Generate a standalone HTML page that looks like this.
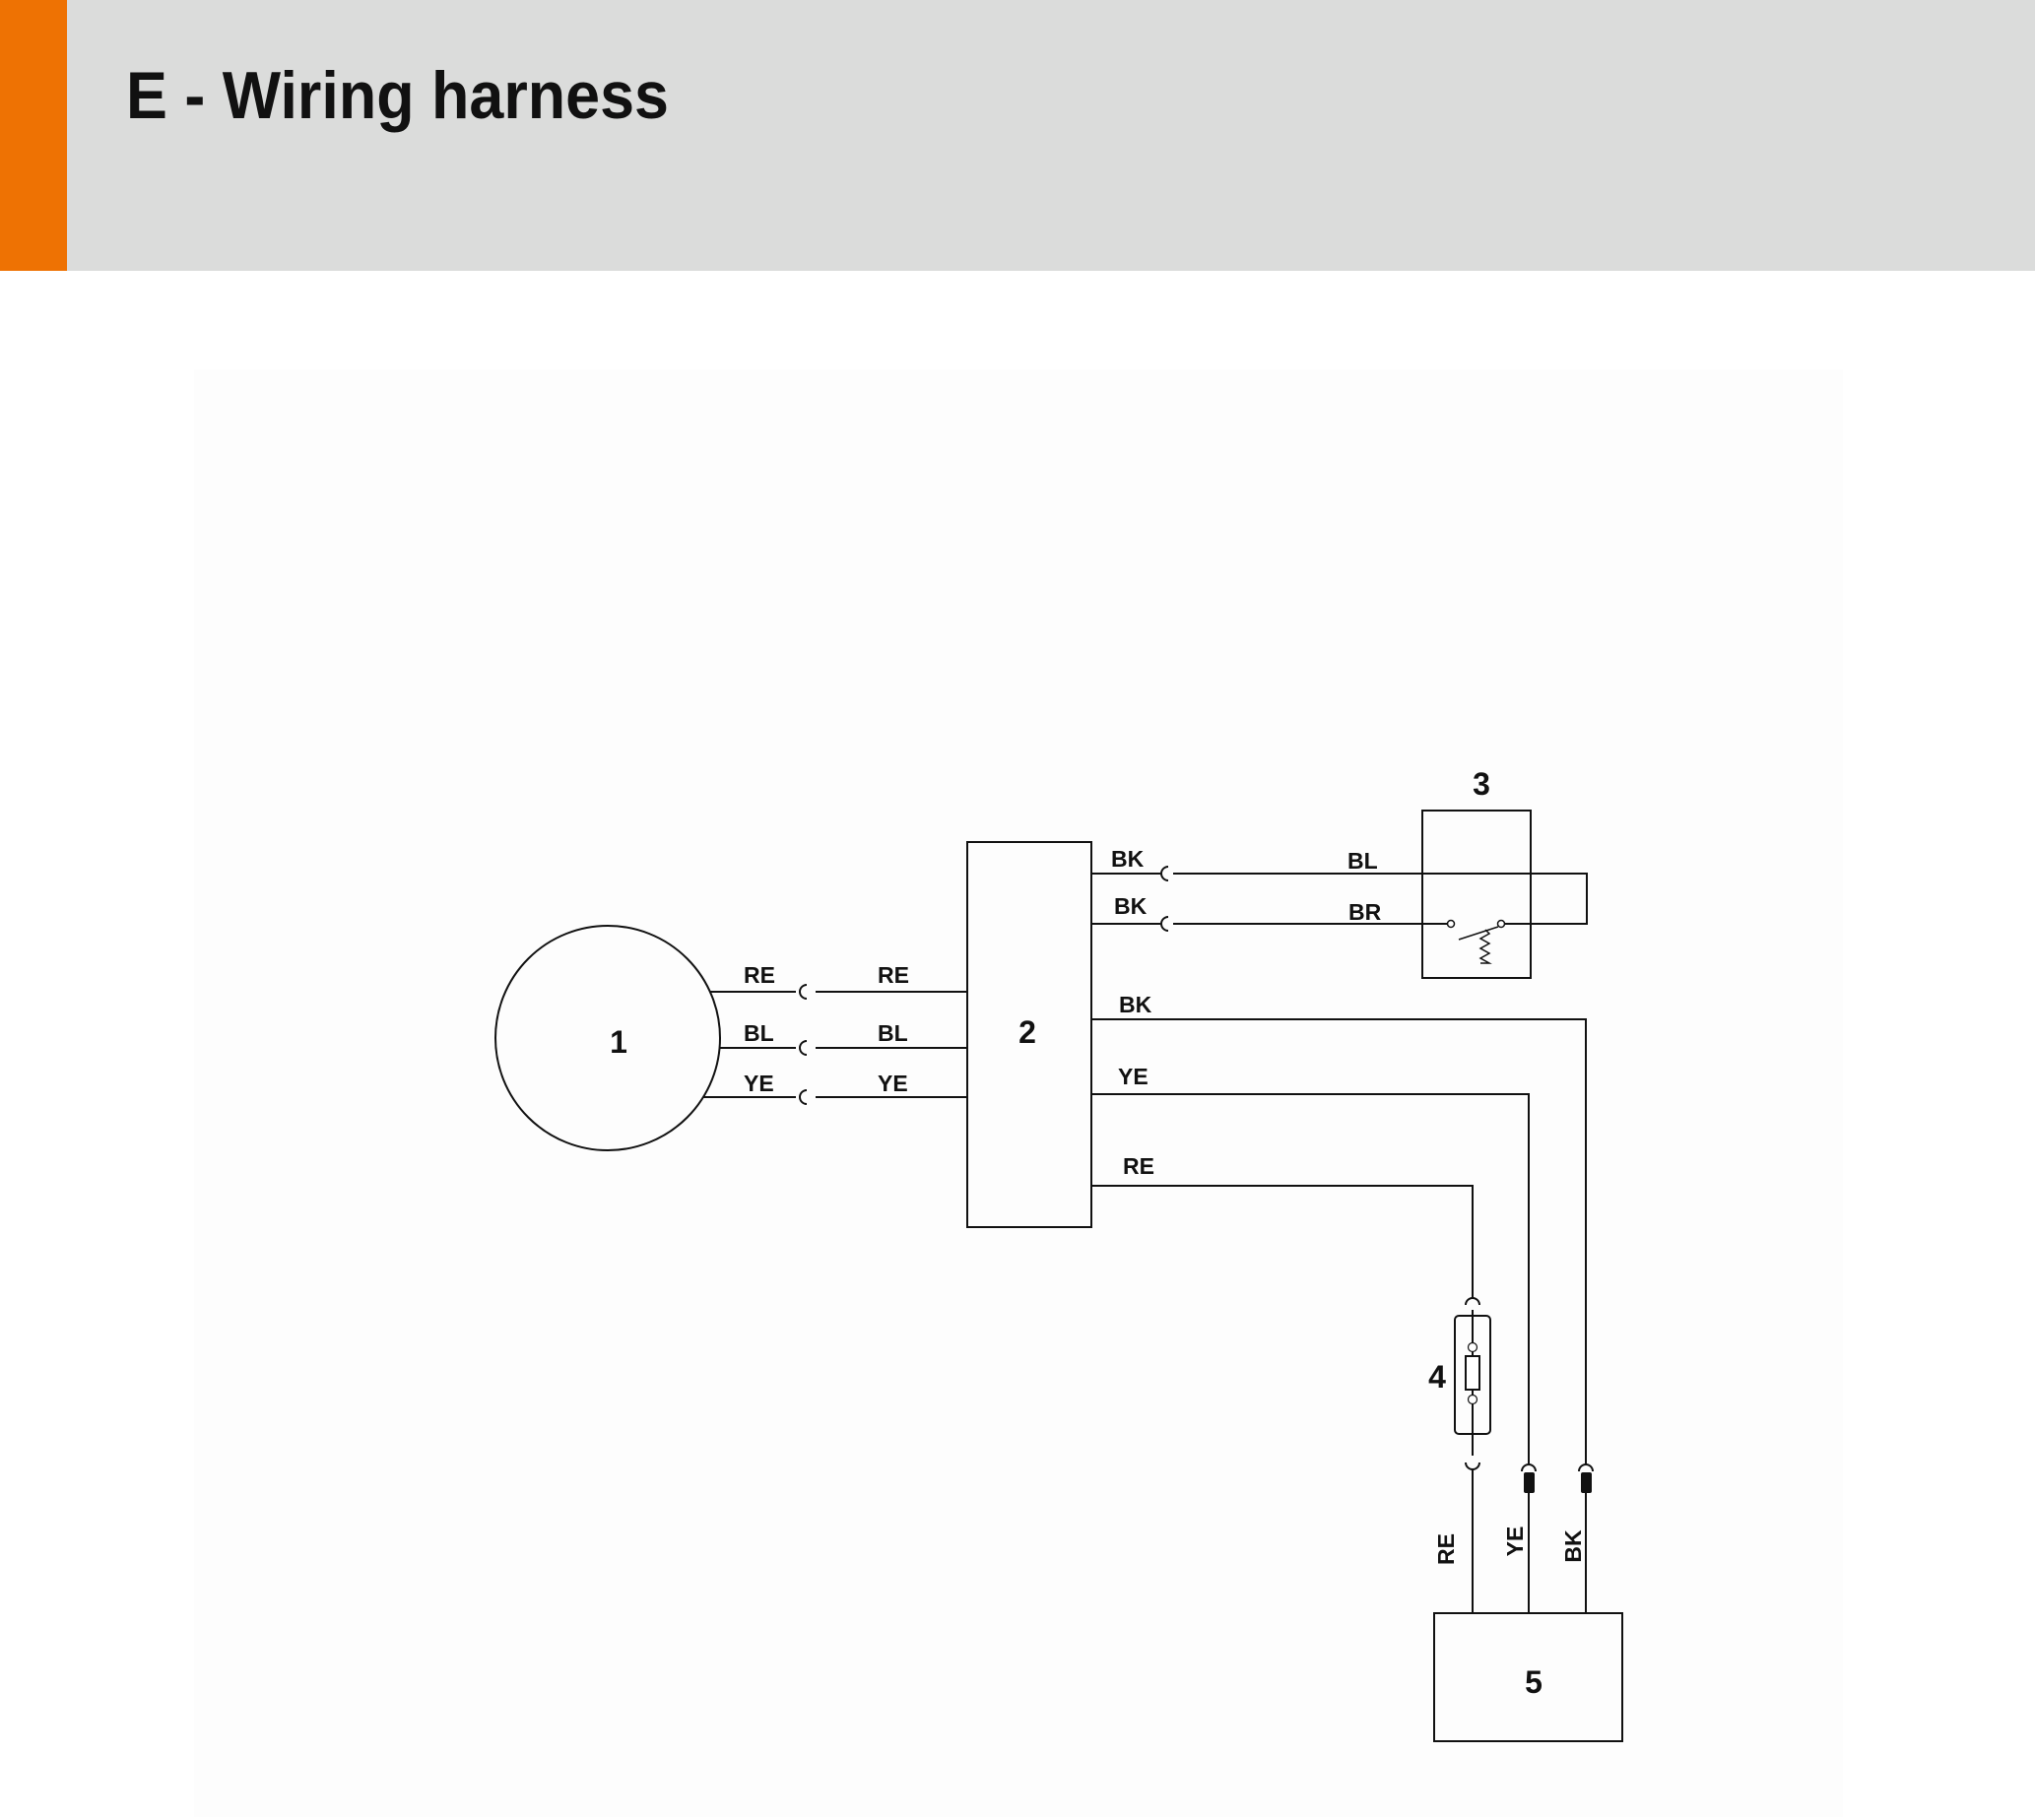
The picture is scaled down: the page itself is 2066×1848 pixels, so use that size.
<!DOCTYPE html>
<html><head><meta charset="utf-8"><style>
html,body{margin:0;padding:0;background:#fff;}
body{width:2066px;height:1848px;position:relative;overflow:hidden;font-family:"Liberation Sans",sans-serif;}
</style></head><body>
<svg width="2066" height="1848" viewBox="0 0 2066 1848" xmlns="http://www.w3.org/2000/svg" style="position:absolute;left:0;top:0">
<rect x="0" y="0" width="2066" height="275" fill="#dbdcdb"/>
<rect x="0" y="0" width="68" height="275" fill="#ee7203"/>
<text x="128" y="120" font-family="Liberation Sans, sans-serif" font-weight="bold" font-size="68" fill="#111" textLength="551" lengthAdjust="spacingAndGlyphs">E - Wiring harness</text>
<rect x="197" y="375" width="1674" height="1470" fill="#fdfdfd"/>
<g stroke="#111" stroke-width="2" fill="none">
<circle cx="617" cy="1054" r="114"/>
<line x1="721" y1="1007" x2="808" y2="1007"/><line x1="828" y1="1007" x2="982" y2="1007"/>
<line x1="730" y1="1064" x2="808" y2="1064"/><line x1="828" y1="1064" x2="982" y2="1064"/>
<line x1="714" y1="1114" x2="808" y2="1114"/><line x1="828" y1="1114" x2="982" y2="1114"/>
<path d="M819 1000 A7 7 0 0 0 819 1014"/>
<path d="M819 1057 A7 7 0 0 0 819 1071"/>
<path d="M819 1107 A7 7 0 0 0 819 1121"/>
<rect x="982" y="855" width="126" height="391"/>
<line x1="1108" y1="887" x2="1178" y2="887"/><path d="M1186 880 A7 7 0 0 0 1186 894"/>
<polyline points="1191,887 1611,887 1611,938 1526,938"/>
<line x1="1108" y1="938" x2="1178" y2="938"/><path d="M1186 931 A7 7 0 0 0 1186 945"/>
<line x1="1191" y1="938" x2="1470" y2="938"/>
<rect x="1444" y="823" width="110" height="170"/>
<circle cx="1473" cy="938" r="3.5" stroke-width="1.5" fill="#fff"/>
<circle cx="1524" cy="938" r="3.5" stroke-width="1.5" fill="#fff"/>
<line x1="1481" y1="954" x2="1521" y2="941" stroke-width="1.5"/>
<polyline points="1508,944 1512,948 1503,953 1512,958 1503,963 1512,968 1503,973 1512,978 1503,978" stroke-width="1.5"/>
<polyline points="1108,1035 1610,1035 1610,1488"/>
<polyline points="1108,1111 1552,1111 1552,1488"/>
<polyline points="1108,1204 1495,1204 1495,1318"/>
<path d="M1488 1325 A7 7 0 0 1 1502 1325"/>
<line x1="1495" y1="1330" x2="1495" y2="1478"/>
<rect x="1477" y="1336" width="36" height="120" rx="4"/>
<circle cx="1495" cy="1368" r="4.5" stroke-width="1.2" fill="#fff"/>
<circle cx="1495" cy="1421" r="4.5" stroke-width="1.2" fill="#fff"/>
<rect x="1488" y="1377" width="14" height="34" fill="#fff"/>
<path d="M1488 1485 A7 7 0 0 0 1502 1485"/>
<line x1="1495" y1="1492" x2="1495" y2="1638"/>
<path d="M1545 1494 A7 7 0 0 1 1559 1494"/>
<path d="M1603 1494 A7 7 0 0 1 1617 1494"/>
<line x1="1552" y1="1510" x2="1552" y2="1638"/>
<line x1="1610" y1="1510" x2="1610" y2="1638"/>
<rect x="1456" y="1638" width="191" height="130"/>
</g>
<rect x="1547" y="1495" width="11" height="21" rx="2" fill="#111"/>
<rect x="1605" y="1495" width="11" height="21" rx="2" fill="#111"/>
<g font-family="Liberation Sans, sans-serif" font-weight="bold" font-size="23" fill="#111">
<text x="755" y="998">RE</text><text x="891" y="998">RE</text>
<text x="755" y="1057">BL</text><text x="891" y="1057">BL</text>
<text x="755" y="1108">YE</text><text x="891" y="1108">YE</text>
<text x="1128" y="880">BK</text><text x="1131" y="928">BK</text>
<text x="1368" y="882">BL</text><text x="1369" y="934">BR</text>
<text x="1136" y="1028">BK</text><text x="1135" y="1101">YE</text><text x="1140" y="1192">RE</text>
<text transform="translate(1476,1573) rotate(-90)" text-anchor="middle">RE</text>
<text transform="translate(1546,1565) rotate(-90)" text-anchor="middle">YE</text>
<text transform="translate(1605,1570) rotate(-90)" text-anchor="middle">BK</text>
</g>
<g font-family="Liberation Sans, sans-serif" font-weight="bold" font-size="32" fill="#111" text-anchor="middle">
<text x="628" y="1069">1</text>
<text x="1043" y="1059">2</text>
<text x="1504" y="807">3</text>
<text x="1459" y="1409">4</text>
<text x="1557" y="1719">5</text>
</g>
</svg>
</body></html>
